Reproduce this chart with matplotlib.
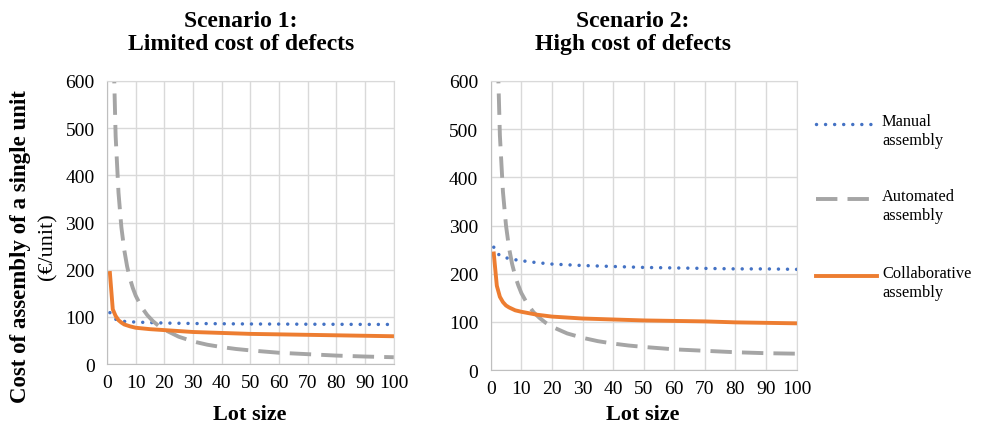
import matplotlib.pyplot as plt
from matplotlib.lines import Line2D

plt.rcParams['font.family'] = ['Liberation Serif', 'DejaVu Serif']

# lot sizes (x) and read-off costs (€/unit)
lot_man = [1, 2, 3, 4, 5, 7, 10, 15, 20, 30, 40, 50, 60, 70, 80, 90, 100]
lot_aut = [1, 2, 3, 4, 5, 6, 7, 8, 9, 10, 12, 14, 16, 18, 20, 25, 30, 35, 40, 45, 50, 60, 70, 80, 90, 100]
lot_col = [1, 2, 3, 4, 5, 6, 7, 8, 10, 15, 20, 30, 40, 50, 60, 70, 80, 90, 100]

# Scenario 1: limited cost of defects
s1_manual = [109, 100, 95, 93, 91, 90, 89, 88, 87, 86, 85.5, 85, 84.8, 84.5, 84.3, 84.1, 84]
s1_auto = [1450, 725, 483, 363, 290, 242, 207, 181, 161, 145, 121, 104, 91, 81, 73,
           58, 48, 41, 36, 32, 29, 24, 21, 18, 16, 14.5]
s1_collab = [193, 116, 102, 93, 88, 84, 82, 80, 77, 74, 72, 68, 66, 64, 63, 62, 61, 60, 59]

# Scenario 2: high cost of defects
s2_manual = [255, 243, 238, 235, 233, 230, 227, 223, 220, 217, 215, 213, 212, 211, 210, 210, 209]
s2_auto = [1420, 720, 487, 370, 300, 253, 220, 195, 176, 160, 137, 120, 108, 98, 90,
           76, 67, 60, 55, 51, 48, 43, 40, 37, 35, 34]
s2_collab = [242, 175, 152, 141, 134, 130, 127, 124, 121, 115, 111, 107, 105, 103, 102, 101, 99, 98, 97]

series_names = ['Manual\nassembly', 'Automated\nassembly', 'Collaborative\nassembly']
c_man, c_aut, c_col = '#4472C4', '#A5A5A5', '#ED7D31'

fig = plt.figure(figsize=(9.82, 4.27), dpi=100)
ax1 = fig.add_axes([0.109, 0.145, 0.292, 0.663])
ax2 = fig.add_axes([0.4997, 0.131, 0.3116, 0.677])

man_style = dict(color=c_man, lw=2.5, linestyle=(0, (0.01, 2.6)), dash_capstyle='round')
aut_style = dict(color=c_aut, lw=2.8, linestyle=(0, (5.5, 2.6)))
col_style = dict(color=c_col, lw=2.8)


def draw(ax, man, aut, col):
    ax.plot(lot_man, man, **man_style)
    ax.plot(lot_aut, aut, **aut_style)
    ax.plot(lot_col, col, **col_style)
    ax.set_xlim(0, 100)
    ax.set_ylim(0, 600)
    ax.set_xticks(range(0, 101, 10))
    ax.set_yticks(range(0, 601, 100))
    ax.grid(True, color='#d9d9d9', lw=1.0)
    ax.set_axisbelow(True)
    for s in ax.spines.values():
        s.set_color('#d9d9d9')
    ax.spines['left'].set_color('#bfbfbf')
    ax.spines['bottom'].set_color('#bfbfbf')
    ax.tick_params(length=0, labelsize=14, pad=7)
    ax.tick_params(axis='y', pad=9)


draw(ax1, s1_manual, s1_auto, s1_collab)
draw(ax2, s2_manual, s2_auto, s2_collab)

# x axis titles, both on the same baseline as in the original
fig.text(250 / 982, 1 - 415 / 427, 'Lot size', ha='center', va='center', fontsize=16, fontweight='bold')
fig.text(643 / 982, 1 - 415 / 427, 'Lot size', ha='center', va='center', fontsize=16, fontweight='bold')

fig.text(241 / 982, 0.923, 'Scenario 1:\nLimited cost of defects', ha='center', va='center',
         fontsize=17, fontweight='bold', linespacing=1.15)
fig.text(633 / 982, 0.923, 'Scenario 2:\nHigh cost of defects', ha='center', va='center',
         fontsize=17, fontweight='bold', linespacing=1.15)

# y axis title: bold first line, plain unit line
fig.text(21 / 982, 0.423, 'Cost of assembly of a single unit', ha='center', va='center',
         rotation=90, fontsize=16.5, fontweight='bold')
fig.text(48 / 982, 0.423, '(€/unit)', ha='center', va='center', rotation=90, fontsize=16)

# legend drawn by hand so the handle sits on the first text line
leg_y = [1 - 125 / 427, 1 - 200 / 427, 1 - 277 / 427]
for y, name, st in zip(leg_y, series_names, [man_style, aut_style, col_style]):
    fig.add_artist(Line2D([816 / 982, 877 / 982], [y, y], transform=fig.transFigure, **st))
    fig.text(882 / 982, y + 0.025, name, ha='left', va='top', fontsize=11.8, linespacing=1.25)

fig.savefig('out.png', dpi=100)
